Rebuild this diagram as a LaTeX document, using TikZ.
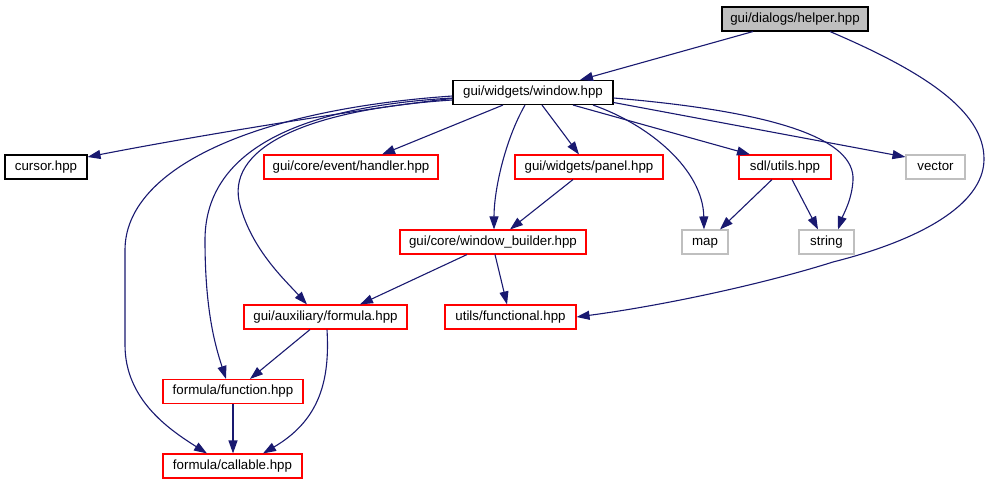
\documentclass[tikz,border=0pt]{standalone}
\usepackage{fontspec}
\setmainfont{Liberation Sans}
\usetikzlibrary{arrows.meta}
\definecolor{edgeblue}{HTML}{191970}
\definecolor{boxgrey}{HTML}{BFBFBF}
\definecolor{boxred}{HTML}{FF0000}
\begin{document}
\begin{tikzpicture}[x=1bp,y=-1bp,
  box/.style={line width=1.1bp, minimum height=24bp, inner sep=0pt,
    text height=9.5bp, text depth=2.8bp,
    font=\fontsize{13.3bp}{16bp}\selectfont, anchor=center},
  blackbox/.style={box, draw=black},
  redbox/.style={box, draw=boxred},
  greybox/.style={box, draw=boxgrey},
  edge/.style={draw=edgeblue, line width=1.1bp, -{Triangle[length=13bp,width=9bp]}},
]
\useasboundingbox (0,0) rectangle (990,485);

% nodes
\node[blackbox, fill=boxgrey, minimum width=146bp] (helper) at (795,19) {gui/dialogs/helper.hpp};
\node[blackbox, minimum width=160bp] (window) at (533,92.5) {gui/widgets/window.hpp};
\node[blackbox, minimum width=82bp] (cursor) at (46,167) {cursor.hpp};
\node[redbox, minimum width=174bp] (handler) at (351,167) {gui/core/event/handler.hpp};
\node[redbox, minimum width=148bp] (panel) at (589,167) {gui/widgets/panel.hpp};
\node[redbox, minimum width=92bp] (sdl) at (785,167) {sdl/utils.hpp};
\node[greybox, minimum width=59bp] (vector) at (935.5,167) {vector};
\node[redbox, minimum width=186bp] (builder) at (493,242) {gui/core/window\_builder.hpp};
\node[greybox, minimum width=46bp] (map) at (705,242) {map};
\node[greybox, minimum width=55bp] (string) at (826.5,242) {string};
\node[redbox, minimum width=163bp] (formula) at (325.5,317) {gui/auxiliary/formula.hpp};
\node[redbox, minimum width=131bp] (functional) at (510.5,317) {utils/functional.hpp};
\node[redbox, minimum width=140bp] (function) at (233,391.5) {formula/function.hpp};
\node[redbox, minimum width=139bp] (callable) at (232.5,466) {formula/callable.hpp};

% edges from helper
\draw[edge] ([xshift=-42bp]helper.south) -- ([xshift=47bp]window.north);
\draw[edge] ([xshift=35bp]helper.south) .. controls (920,70) and (985,110) .. (984,160)
  .. controls (983,205) and (920,240) .. (833,262)
  .. controls (760,285) and (660,306) .. (functional.east);

% edges from window
\draw[edge] ([yshift=-6bp]window.west) .. controls (380,106) and (200,135) .. ([yshift=10bp]cursor.east);
\draw[edge] ([xshift=-30bp]window.south) -- ([xshift=31bp]handler.north);
\draw[edge] ([xshift=-8bp]window.south) .. controls (505,140) and (494,190) .. ([xshift=1bp]builder.north);
\draw[edge] ([xshift=9bp]window.south) -- ([xshift=-10bp]panel.north);
\draw[edge] ([xshift=60bp]window.south) .. controls (650,125) and (703,170) .. ([xshift=-1bp]map.north);
\draw[edge] ([xshift=40bp]window.south) -- ([xshift=-35bp]sdl.north);
\draw[edge] ([yshift=-10bp]window.east) -- ([yshift=10bp]vector.west);
\draw[edge] ([yshift=-5.5bp]window.east) .. controls (780,112) and (855,140) .. (853,180)
  .. controls (852,200) and (843,215) .. ([xshift=11.5bp]string.north);
\draw[edge] ([yshift=-7.5bp]window.west) .. controls (300,110) and (225,150) .. (240,205)
  .. controls (252,250) and (285,280) .. ([xshift=-18.5bp]formula.north);
\draw[edge] ([yshift=-5.5bp]window.west) .. controls (280,108) and (205,160) .. (205,240)
  .. controls (205,310) and (215,345) .. ([xshift=-7bp]function.north);
\draw[edge] ([yshift=-3.5bp]window.west) .. controls (250,110) and (125,170) .. (125,250)
  -- (125,345) .. controls (125,400) and (170,430) .. ([xshift=-25.5bp]callable.north);

% other edges
\draw[edge] ([xshift=-16bp]panel.south) -- ([xshift=17bp]builder.north);
\draw[edge] ([xshift=-13bp]sdl.south) -- ([xshift=15bp]map.north);
\draw[edge] ([xshift=7bp]sdl.south) -- ([xshift=-8.5bp]string.north);
\draw[edge] ([xshift=-26bp]builder.south) -- ([xshift=34.5bp]formula.north);
\draw[edge] ([xshift=2bp]builder.south) -- ([xshift=-3.5bp]functional.north);
\draw[edge] ([xshift=-15.5bp]formula.south) -- ([xshift=17bp]function.north);
\draw[edge] ([xshift=1.5bp]formula.south) .. controls (330,380) and (320,420) .. ([xshift=30.5bp]callable.north);
\draw[edge] (function.south) -- (function.south |- callable.north);
\end{tikzpicture}
\end{document}
